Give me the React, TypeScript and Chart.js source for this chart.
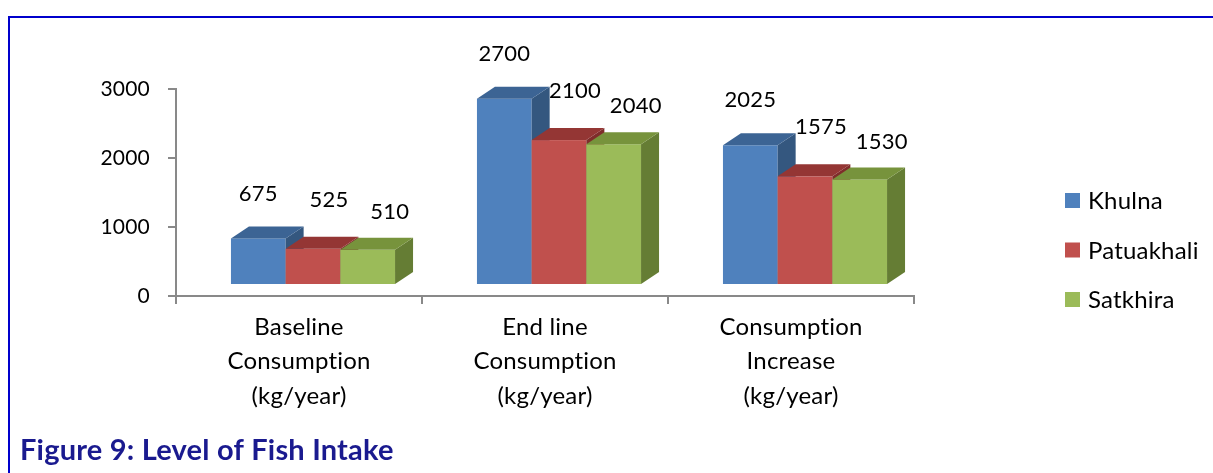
import React, { useEffect, useRef } from 'react';
import { Chart, registerables } from 'chart.js';

Chart.register(...registerables);

// ---------- data ----------
const categories: string[][] = [
  ['Baseline', 'Consumption', '(kg/year)'],
  ['End line', 'Consumption', '(kg/year)'],
  ['Consumption', 'Increase', '(kg/year)'],
];
const seriesNames = ['Khulna', 'Patuakhali', 'Satkhira'];
const khulna = [675, 2700, 2025];
const patuakhali = [525, 2100, 1575];
const satkhira = [510, 2040, 1530];
const yTicks = [0, 1000, 2000, 3000];
const titleText = 'Figure 9: Level of Fish Intake';

// ---------- styles ----------
const W = 1213;
const H = 473;
const FONT = 'Lato';
const TEXT_SIZE = 24;
const NUM_SIZE = 21;
const FRONT = ['#4F81BD', '#C0504D', '#9BBB59'];
const TOPC = ['#3C6494', '#943634', '#77933C'];
const SIDE = ['#34577F', '#7F2D2B', '#657D34'];
const FACE_SHIFT = { x: 14, y: -11 };
const DEPTH = { x: 18, y: -12 };
const LABEL_OFF = [
  { x: 0, y: -45 },
  { x: 16, y: -49 },
  { x: 22, y: -38 },
];
const AXIS_COLOR = '#898989';

const textSetup = {
  id: 'textSetup',
  beforeDraw(chart: any) {
    const ctx = chart.ctx as any;
    if ('letterSpacing' in ctx) ctx.letterSpacing = '0.2px';
  },
};

const bars3d = {
  id: 'bars3d',
  afterDatasetsDraw(chart: any) {
    const ctx = chart.ctx as CanvasRenderingContext2D;
    const nCat = chart.data.labels.length;
    ctx.save();
    for (let i = 0; i < nCat; i++) {
      chart.data.datasets.forEach((ds: any, d: number) => {
        const meta = chart.getDatasetMeta(d);
        const el = meta.data[i];
        if (!el) return;
        const p = el.getProps(['x', 'y', 'base', 'width'], true);
        const left = p.x - p.width / 2 + FACE_SHIFT.x;
        const right = left + p.width;
        const top = p.y + FACE_SHIFT.y;
        const bottom = p.base + FACE_SHIFT.y;
        ctx.fillStyle = FRONT[d];
        ctx.fillRect(left, top, right - left, bottom - top);
        ctx.fillStyle = SIDE[d];
        ctx.beginPath();
        ctx.moveTo(right, top);
        ctx.lineTo(right + DEPTH.x, top + DEPTH.y);
        ctx.lineTo(right + DEPTH.x, bottom + DEPTH.y);
        ctx.lineTo(right, bottom);
        ctx.closePath();
        ctx.fill();
        ctx.fillStyle = TOPC[d];
        ctx.beginPath();
        ctx.moveTo(left, top);
        ctx.lineTo(left + DEPTH.x, top + DEPTH.y);
        ctx.lineTo(right + DEPTH.x, top + DEPTH.y);
        ctx.lineTo(right, top);
        ctx.closePath();
        ctx.fill();
      });
    }
    ctx.fillStyle = '#000';
    ctx.font = `22px ${FONT}`;
    ctx.textAlign = 'center';
    ctx.textBaseline = 'middle';
    chart.data.datasets.forEach((ds: any, d: number) => {
      const meta = chart.getDatasetMeta(d);
      meta.data.forEach((el: any, i: number) => {
        const p = el.getProps(['x', 'y'], true);
        const cx = p.x + FACE_SHIFT.x + LABEL_OFF[d].x;
        const cy = p.y + FACE_SHIFT.y + LABEL_OFF[d].y;
        ctx.fillText(String(ds.data[i]), cx, cy);
      });
    });
    ctx.restore();
  },
};

const frame = {
  id: 'frame',
  afterDraw(chart: any) {
    const ctx = chart.ctx as any;
    ctx.save();
    ctx.strokeStyle = '#0000CC';
    ctx.lineWidth = 2;
    ctx.beginPath();
    ctx.moveTo(9, H);
    ctx.lineTo(9, 17);
    ctx.lineTo(W, 17);
    ctx.stroke();
    ctx.font = `${TEXT_SIZE}px ${FONT}`;
    ctx.textAlign = 'left';
    ctx.textBaseline = 'middle';
    chart.data.datasets.forEach((ds: any, d: number) => {
      const cy = 200.5 + d * 49.5;
      ctx.fillStyle = FRONT[d];
      ctx.fillRect(1065, cy - 7.5, 15, 15);
      ctx.fillStyle = '#000';
      ctx.fillText(ds.label, 1088, cy + 1);
    });
    ctx.font = `bold 29px ${FONT}`;
    ctx.fillStyle = '#1A1A8F';
    ctx.textBaseline = 'alphabetic';
    ctx.fillText(titleText, 20, 460);
    ctx.restore();
  },
};

export default function App() {
  const ref = useRef<HTMLCanvasElement | null>(null);
  useEffect(() => {
    let chart: Chart | null = null;
    let cancelled = false;
    const make = () => {
      if (cancelled || !ref.current) return;
      chart = new Chart(ref.current, {
        type: 'bar',
        data: {
          labels: categories as any,
          datasets: [
            { label: seriesNames[0], data: khulna, backgroundColor: 'rgba(0,0,0,0)' },
            { label: seriesNames[1], data: patuakhali, backgroundColor: 'rgba(0,0,0,0)' },
            { label: seriesNames[2], data: satkhira, backgroundColor: 'rgba(0,0,0,0)' },
          ],
        },
        options: {
          animation: false,
          responsive: false,
          devicePixelRatio: 1,
          layout: { padding: { left: 0, right: W - 914, top: 89, bottom: 0 } },
          datasets: { bar: { categoryPercentage: 0.667, barPercentage: 1 } },
          plugins: { legend: { display: false }, tooltip: { enabled: false }, title: { display: false } },
          scales: {
            x: {
              type: 'category',
              afterFit: (s: any) => {
                s.height = H - 296;
              },
              border: { display: true, color: AXIS_COLOR, width: 2 },
              grid: {
                display: true,
                offset: true,
                drawOnChartArea: false,
                drawTicks: true,
                tickLength: 8,
                color: AXIS_COLOR,
                lineWidth: 2,
              },
              ticks: {
                color: '#000',
                font: { family: FONT, size: TEXT_SIZE, lineHeight: '34.5px' as any },
                padding: 6,
                maxRotation: 0,
                autoSkip: false,
              },
            },
            y: {
              min: 0,
              max: 3000,
              afterFit: (s: any) => {
                s.width = 176;
              },
              afterBuildTicks: (s: any) => {
                s.ticks = yTicks.map((v) => ({ value: v }));
              },
              border: { display: true, color: AXIS_COLOR, width: 2 },
              grid: {
                display: true,
                drawOnChartArea: false,
                drawTicks: true,
                tickLength: 8,
                color: AXIS_COLOR,
                lineWidth: 2,
              },
              ticks: {
                color: '#000',
                font: { family: FONT, size: NUM_SIZE },
                padding: 18,
                callback: (v: any) => String(v),
              },
            },
          },
        },
        plugins: [textSetup, bars3d, frame],
      });
    };
    const fonts: any = (document as any).fonts;
    if (fonts && fonts.load) {
      Promise.all([fonts.load(`${TEXT_SIZE}px ${FONT}`), fonts.load(`bold 29px ${FONT}`)])
        .catch(() => {})
        .then(make);
    } else {
      make();
    }
    return () => {
      cancelled = true;
      if (chart) chart.destroy();
    };
  }, []);
  return (
    <div style={{ position: 'fixed', left: 0, top: 0, width: W, height: H, background: '#fff' }}>
      <canvas ref={ref} width={W} height={H} style={{ display: 'block', width: W, height: H }} />
    </div>
  );
}
